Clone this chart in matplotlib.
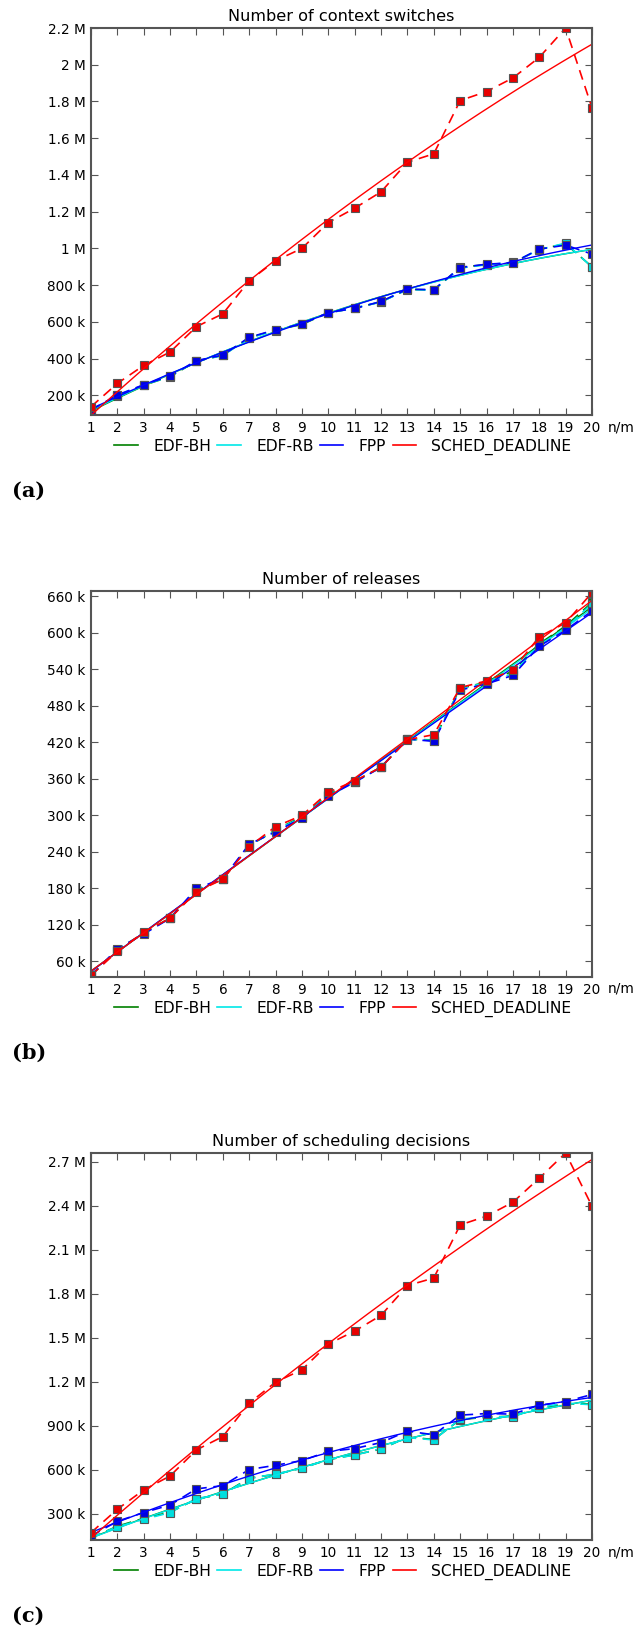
import numpy as np
import matplotlib
matplotlib.use('Agg')
import matplotlib.pyplot as plt
from matplotlib.lines import Line2D
from matplotlib.ticker import FuncFormatter, MultipleLocator

x = np.arange(1, 21)
series_names = ['EDF-BH', 'EDF-RB', 'FPP', 'SCHED_DEADLINE']
series_colors = ['#008000', '#00e8e8', '#0000ff', '#ff0000']
marker_colors = ['#008000', '#00dede', '#0000e0', '#e80000']

# (a) Number of context switches (thousands)
cs_edf_bh = [112, 198, 255, 302, 386, 418, 514, 555, 586, 650, 674, 709, 777, 774, 897, 912, 921, 995, 1025, 900]
cs_edf_rb = [118, 200, 256, 303, 387, 417, 512, 553, 590, 648, 676, 708, 776, 773, 893, 911, 924, 993, 1029, 898]
cs_fpp = [120, 202, 258, 305, 389, 419, 516, 557, 588, 651, 673, 711, 778, 775, 896, 914, 922, 996, 1018, 969]
cs_sched = [138, 265, 363, 436, 574, 644, 824, 933, 1000, 1141, 1219, 1308, 1469, 1515, 1805, 1854, 1928, 2040, 2200, 1765]

# (b) Number of releases (thousands)
rel_edf_bh = [37, 79, 106.5, 131.5, 177, 195, 250, 276, 298, 334, 355.5, 379.5, 425, 424, 508.5, 519, 537, 582, 611, 650]
rel_edf_rb = [37, 79.5, 106, 131, 178, 195.5, 251, 275, 297, 333, 355, 379, 425, 423, 508, 518, 533, 580, 608, 648]
rel_fpp = [37, 80.7, 105, 131, 180, 196, 252.5, 273, 295.6, 331.6, 354.5, 379, 425.5, 421.6, 506, 516, 530, 578, 604.4, 636]
rel_sched = [37, 76.4, 108, 131, 174.5, 195, 248.7, 281.5, 300, 338, 356.7, 379, 424.4, 432.6, 510, 521, 539, 593.5, 616.4, 666]

# (c) Number of scheduling decisions (thousands)
sd_edf_bh = [134, 214, 268, 310, 400, 434, 542, 568, 611, 668, 702, 740, 822, 806, 942, 958, 965, 1020, 1050, 1048]
sd_edf_rb = [136, 211, 261, 307, 403, 432, 539, 571, 608, 671, 699, 744, 819, 803, 945, 961, 961, 1024, 1054, 1043]
sd_fpp = [147, 248, 307, 359, 469, 491, 601, 630, 662, 724, 744, 785, 863, 838, 972, 983, 979, 1040, 1065, 1113]
sd_sched = [170, 330, 462, 557, 735, 826, 1054, 1197, 1282, 1457, 1546, 1653, 1856, 1908, 2270, 2330, 2425, 2589, 2761, 2398]

titles = ['Number of context switches', 'Number of releases', 'Number of scheduling decisions']
panel_labels = ['(a)', '(b)', '(c)']
ylims = [(93, 2200), (34.4, 668.7), (120, 2761)]
ysteps = [200, 60, 300]

panels = [
    [cs_edf_bh, cs_edf_rb, cs_fpp, cs_sched],
    [rel_edf_bh, rel_edf_rb, rel_fpp, rel_sched],
    [sd_edf_bh, sd_edf_rb, sd_fpp, sd_sched],
]

W, H = 636, 1637
fig = plt.figure(figsize=(W / 100, H / 100), dpi=100, facecolor='white')

# axes pixel boxes: (left, top, right, bottom)
boxes = [(91, 28, 592, 415), (91, 591, 592, 977), (91, 1153, 592, 1540)]


def fmt(v, pos):
    v = v * 1000.0
    if v >= 1e6:
        return f"{v / 1e6:g} M"
    return f"{v / 1e3:g} k"


for i, (data, box) in enumerate(zip(panels, boxes)):
    l, t, r, b = box
    ax = fig.add_axes([l / W, 1 - b / H, (r - l) / W, (b - t) / H])
    for vals, c, mc in zip(data, series_colors, marker_colors):
        vals = np.asarray(vals, dtype=float)
        ax.plot(x, vals, linestyle='--', dashes=(6, 4), color=c, lw=1.2,
                marker='s', markersize=6.3, markerfacecolor=mc,
                markeredgecolor='#555555', markeredgewidth=0.8)
        coef = np.polyfit(x, vals, 2)
        xf = np.linspace(1, 20, 200)
        ax.plot(xf, np.polyval(coef, xf), '-', color=c, lw=1.0)
    ax.set_xlim(1, 20)
    ax.set_ylim(*ylims[i])
    ax.set_xticks(x)
    ax.yaxis.set_major_locator(MultipleLocator(ysteps[i]))
    ax.yaxis.set_major_formatter(FuncFormatter(fmt))
    ax.tick_params(direction='in', length=5, width=0.8, color='#555555',
                   top=True, right=True, labelsize=9.8, pad=4)
    for s in ax.spines.values():
        s.set_color('#555555')
        s.set_linewidth(1.5)
    ax.set_title(titles[i], fontsize=11.6, pad=5)
    ax.annotate('n/m', xy=(1, 0), xycoords='axes fraction', xytext=(16, -12),
                textcoords='offset pixels', ha='left', va='center', fontsize=9.8)
    handles = [Line2D([], [], color=c, lw=1.2) for c in series_colors]
    ax.legend(handles, series_names, loc='center', ncol=4, frameon=False,
              bbox_to_anchor=(0.503, -32 / (b - t)), fontsize=11.2,
              handlelength=1.5, handletextpad=1.0, columnspacing=0.4,
              borderaxespad=0)
    fig.text(12 / W, 1 - (b + 76) / H, panel_labels[i], fontsize=15,
             family='DejaVu Serif', fontweight='bold', ha='left', va='center')

fig.savefig('out.png', dpi=100, facecolor='white')
